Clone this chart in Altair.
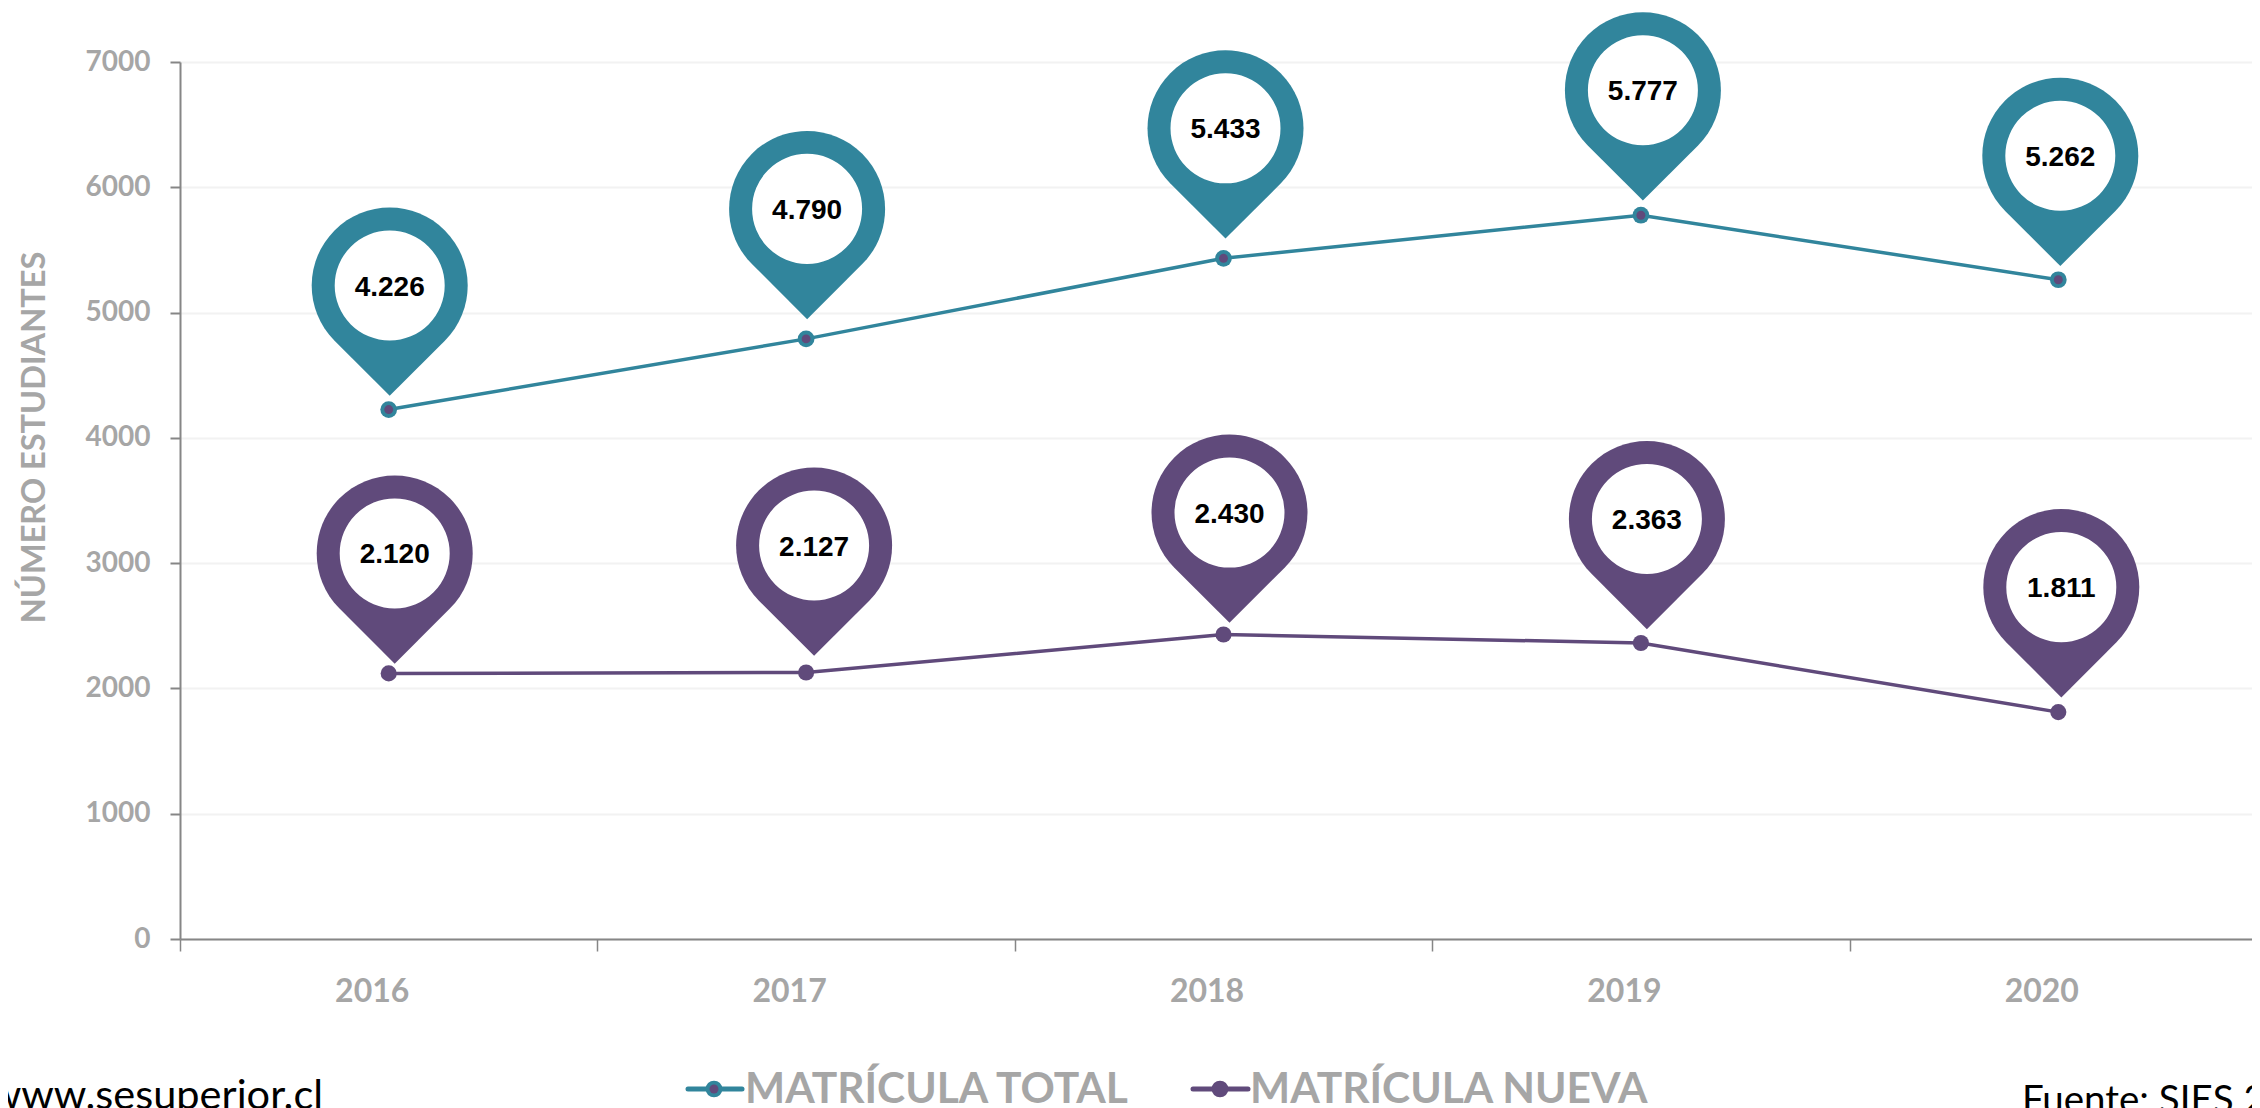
import altair as alt
import pandas as pd

years = ["2016", "2017", "2018", "2019", "2020"]
total = [4226, 4790, 5433, 5777, 5262]
nueva = [2120, 2127, 2430, 2363, 1811]
series_names = ["MATRÍCULA TOTAL", "MATRÍCULA NUEVA"]

# hand placement of the pin callouts relative to their points (annotation layout, px)
pin_dx = {"MATRÍCULA TOTAL": [1, 1, 2, 2, 2], "MATRÍCULA NUEVA": [6, 8, 6, 6, 3]}
pin_dy = {"MATRÍCULA TOTAL": [-124, -130, -130, -125, -124], "MATRÍCULA NUEVA": [-120, -127, -122, -124, -125]}

TEAL = "#31859C"
PURPLE = "#604A7B"
GREY = "#A6A6A6"
PIN = "M-0.7071,0.7071 A1,1 0 1,1 0.7071,0.7071 L0,1.414 Z"
PLOT_W, PLOT_H = 2087, 877
BAND = PLOT_W / 5

rows = []
for name, vals in zip(series_names, [total, nueva]):
    for i, (y, v) in enumerate(zip(years, vals)):
        rows.append({"year": y, "value": v, "serie": name,
                     "label": f"{v:,}".replace(",", "."),
                     "dx": pin_dx[name][i] + BAND / 2,
                     "pin_v": v - pin_dy[name][i] * 7000 / PLOT_H})
df = pd.DataFrame(rows)

color = alt.Color("serie:N", legend=None,
                  scale=alt.Scale(domain=series_names, range=[TEAL, PURPLE]))
xscale = alt.Scale(type="band", paddingInner=0, paddingOuter=0)
yscale = alt.Scale(domain=[0, 7000], nice=False)
x = alt.X("year:N", title=None, scale=xscale,
          axis=alt.Axis(labelAngle=0, tickBand="extent", labelOffset=-17, labelPadding=25,
                        labelFont="Lato", labelFontWeight="bold", labelFontSize=32, labelColor=GREY,
                        domainColor="#868686", domainWidth=2, tickColor="#868686", tickWidth=1.5,
                        tickSize=12, grid=False))
y = alt.Y("value:Q", title="NÚMERO ESTUDIANTES", scale=yscale,
          axis=alt.Axis(values=list(range(0, 7001, 1000)), format="d",
                        labelFont="Lato", labelFontWeight="bold", labelFontSize=28, labelColor=GREY,
                        labelPadding=20, titleFont="Lato", titleFontWeight="bold", titleFontSize=32.5,
                        titleColor=GREY, titleX=-136, titleY=375, titleAlign="center",
                        titleBaseline="alphabetic",
                        domainColor="#868686", domainWidth=2, tickColor="#868686", tickWidth=2,
                        tickSize=10, grid=True, gridColor="#F2F2F2", gridWidth=2))
base = alt.Chart(df).encode(x=x, y=y)
pin_base = alt.Chart(df).encode(
    x=alt.X("year:N", title=None, scale=xscale),
    y=alt.Y("pin_v:Q", title="NÚMERO ESTUDIANTES", scale=yscale),
    xOffset=alt.XOffset("dx:Q", scale=None))

line = base.mark_line(strokeWidth=3.5).encode(color=color)
pts_total = base.transform_filter(alt.datum.serie == series_names[0]).mark_point(
    filled=True, opacity=1, size=280, color=TEAL)
pts_total_in = base.transform_filter(alt.datum.serie == series_names[0]).mark_point(
    filled=True, opacity=1, size=80, color=PURPLE)
pts_nueva = base.transform_filter(alt.datum.serie == series_names[1]).mark_point(
    filled=True, opacity=1, size=260, color=PURPLE)
pin = pin_base.mark_point(shape=PIN, filled=True, opacity=1, size=24336).encode(color=color)
hole = pin_base.mark_point(shape="circle", filled=True, opacity=1, size=12100, color="white")
text = pin_base.mark_text(font="Liberation Sans", fontWeight="bold", fontSize=28, color="black",
                          baseline="middle", dy=2).encode(text="label:N")


def px_text(s, px, py, size, col=GREY, weight="bold", align="left"):
    return alt.Chart(pd.DataFrame({"t": [s]})).mark_text(
        font="Lato", fontSize=size, fontWeight=weight, color=col, align=align, baseline="alphabetic"
    ).encode(text="t:N", x=alt.value(px - 180), y=alt.value(py - 62))


def legend_mark(x1, x2, cx, col, inner=None):
    d = pd.DataFrame({"a": [0]})
    ly = 1089 - 62
    parts = [
        alt.Chart(d).mark_rule(color=col, strokeWidth=5, strokeCap="round").encode(
            x=alt.value(x1 - 180), x2=alt.value(x2 - 180), y=alt.value(ly)),
        alt.Chart(d).mark_point(filled=True, opacity=1, size=280, color=col).encode(
            x=alt.value(cx - 180), y=alt.value(ly)),
    ]
    if inner:
        parts.append(alt.Chart(d).mark_point(filled=True, opacity=1, size=80, color=inner).encode(
            x=alt.value(cx - 180), y=alt.value(ly)))
    return parts


chart = alt.layer(
    line, pts_total, pts_total_in, pts_nueva, pin, hole, text,
    *legend_mark(688, 742, 714, TEAL, PURPLE),
    *legend_mark(1193, 1248, 1220, PURPLE),
    px_text(series_names[0], 745, 1103, 42.5),
    px_text(series_names[1], 1250, 1103, 42.5),
    px_text("www.sesuperior.cl", 323, 1109, 41.5, col="black", weight="normal", align="right"),
    px_text("Fuente: SIES 2020", 2022, 1113, 38.5, col="black", weight="normal"),
).properties(
    width=PLOT_W, height=PLOT_H,
    autosize=alt.AutoSizeParams(type="none"),
    padding={"left": 172, "top": 54, "right": -15, "bottom": 169},
).configure_view(stroke=None)

chart.save("out.html", embed_options={"renderer": "svg", "actions": False})
